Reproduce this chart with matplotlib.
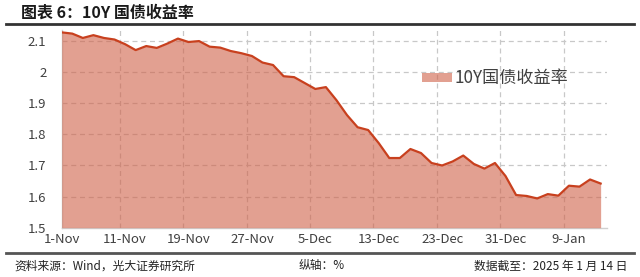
import numpy as np
import matplotlib.pyplot as plt
from matplotlib.patches import Patch

plt.rcParams['font.family'] = ['Noto Sans CJK SC', 'DejaVu Sans']

# 交易日序列（2024-11-01 至 2025-01-14），每 6 个交易日一个标签
tick_labels = ['1-Nov', '11-Nov', '19-Nov', '27-Nov', '5-Dec',
               '13-Dec', '23-Dec', '31-Dec', '9-Jan']
yield_10y = [2.128, 2.124, 2.110, 2.119, 2.110, 2.105, 2.090, 2.071, 2.084, 2.078,
             2.092, 2.108, 2.097, 2.100, 2.082, 2.079, 2.068, 2.061, 2.052, 2.031,
             2.023, 1.987, 1.984, 1.965, 1.946, 1.952, 1.910, 1.862, 1.823, 1.814,
             1.772, 1.724, 1.724, 1.753, 1.740, 1.708, 1.700, 1.713, 1.732, 1.705,
             1.690, 1.708, 1.666, 1.605, 1.602, 1.594, 1.608, 1.603, 1.635, 1.632,
             1.655, 1.642]
y_ticks = [1.5, 1.6, 1.7, 1.8, 1.9, 2.0, 2.1]
y_labels = ['1.5', '1.6', '1.7', '1.8', '1.9', '2', '2.1']

x = np.arange(len(yield_10y))
fill_c = '#CF6148'
line_c = '#C8401E'
txt_c = '#404040'

fig = plt.figure(figsize=(6.4, 2.77), dpi=100)
ax = fig.add_axes([0.0964, 0.178, 0.852, 0.713])

ax.fill_between(x, yield_10y, 1.5, color=fill_c, alpha=0.6, lw=0, zorder=3)
ax.plot(x, yield_10y, color=line_c, lw=1.6, zorder=4)

ax.set_xlim(0, 51.6)
ax.set_ylim(1.5, 2.135)
ax.set_yticks(y_ticks)
ax.set_yticklabels(y_labels)
ax.set_xticks(x[::6])
ax.set_xticklabels(tick_labels)
ax.tick_params(length=0, labelsize=9.5, labelcolor=txt_c)
ax.tick_params(axis='y', pad=11)
ax.tick_params(axis='x', pad=4)

# 网格
for v in y_ticks[1:]:
    ax.axhline(v, color='#C8C8C8', lw=0.9, ls=(0, (4, 3)), zorder=1)
for g in np.arange(5.5, 50, 6):
    ax.axvline(g, color='#C8C8C8', lw=0.9, ls=(0, (4, 3)), zorder=1)

for s in ['top', 'right']:
    ax.spines[s].set_visible(False)
for s in ['left', 'bottom']:
    ax.spines[s].set_color('#D0D0D0')
    ax.spines[s].set_linewidth(1.0)

leg = ax.legend(handles=[Patch(color=fill_c, alpha=0.6, lw=0)], labels=['10Y国债收益率'],
                loc='center left', bbox_to_anchor=(0.632, 0.757), frameon=False,
                fontsize=12.3, handlelength=1.8, handleheight=0.45, handletextpad=0.1)
for t in leg.get_texts():
    t.set_color(txt_c)

# 标题与页脚
fig.text(0.033, 0.953, '图表 6：10Y 国债收益率', fontsize=11.5, fontweight='bold',
         color='#1a1a1a', va='center', ha='left')
fig.add_artist(plt.Line2D([0.009, 0.991], [0.912, 0.912], color='#333333', lw=2))
fig.add_artist(plt.Line2D([0.009, 0.991], [0.087, 0.087], color='#555555', lw=2))
fig.text(0.022, 0.040, '资料来源：Wind，光大证券研究所', fontsize=8.5, color='#222222', va='center')
fig.text(0.466, 0.040, '纵轴：%', fontsize=8.5, color='#222222', va='center')
fig.text(0.981, 0.040, '数据截至：2025 年 1 月 14 日', fontsize=8.5, color='#222222',
         va='center', ha='right')

fig.savefig('out.png', dpi=100)
